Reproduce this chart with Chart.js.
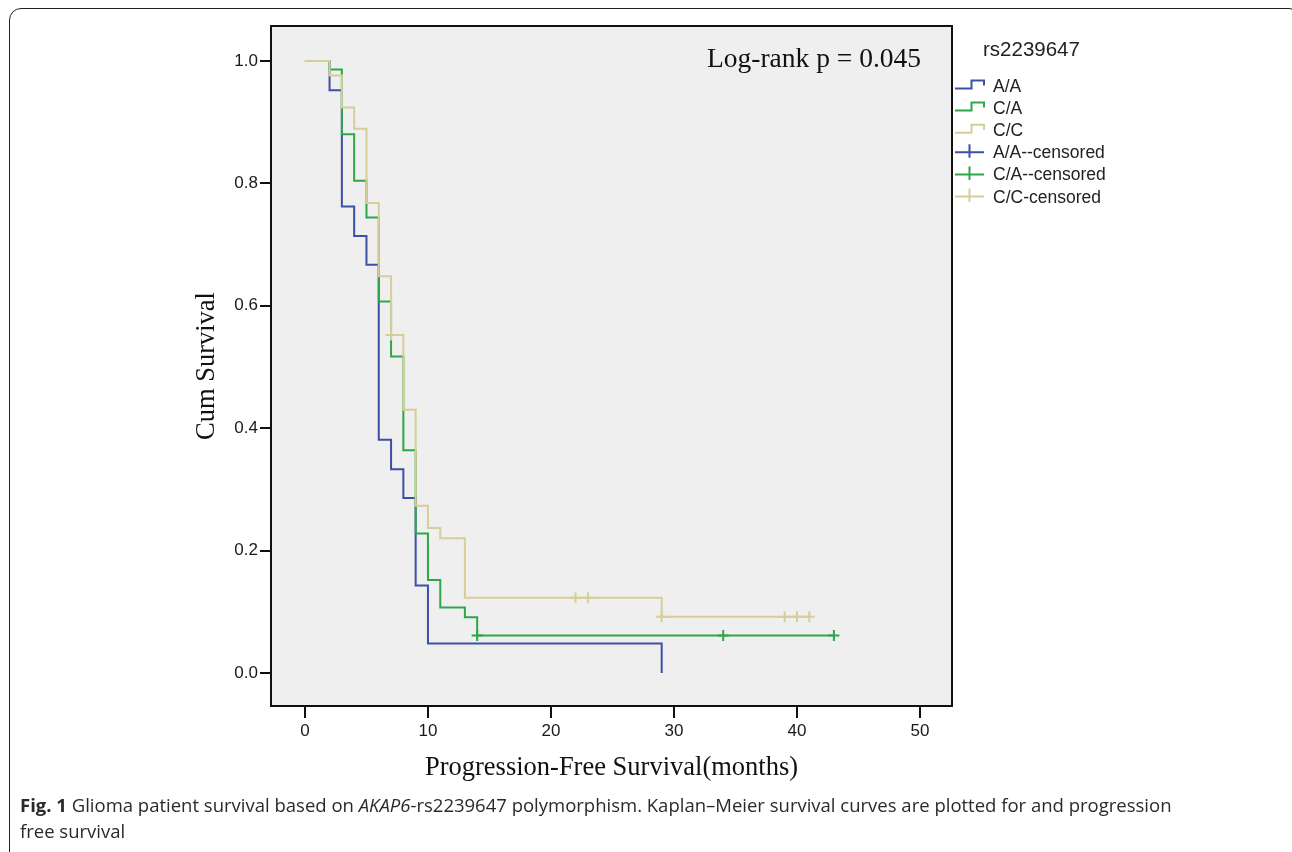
<!DOCTYPE html>
<html>
<head>
<meta charset="utf-8">
<script src="https://cdn.jsdelivr.net/npm/chart.js@4"></script>
<style>
  body { margin: 0; background: #fff; }
  #wrap { position: relative; width: 1292px; height: 852px; overflow: hidden; }
  #frame { position: absolute; left: 9px; top: 8px; width: 1290px; height: 900px;
           border: 1.5px solid #222; border-radius: 12px; }
  #chart { position: absolute; left: 0; top: 0; }
  #caption { position: absolute; left: 20px; top: 792px; width: 1240px;
             font-family: "Open Sans", sans-serif; font-size: 18.5px; line-height: 26px; color: #2a2a2a; }
</style>
</head>
<body>
<div id="wrap">
  <div id="frame"></div>
  <canvas id="chart" width="1292" height="852"></canvas>
  <div id="caption"><b>Fig. 1</b> Glioma patient survival based on <i>AKAP6</i>-rs2239647 polymorphism. Kaplan–Meier survival curves are plotted for and progression<br>free survival</div>
</div>
<script>
// Kaplan-Meier steps (months, cumulative survival)
const aaTime = [0, 2, 3, 4, 5, 6, 7, 8, 9, 10, 29];
const aaSurv = [1, 0.952, 0.762, 0.714, 0.667, 0.381, 0.333, 0.286, 0.143, 0.048, 0];

const caTime = [0, 2, 3, 4, 5, 6, 7, 8, 9, 10, 11, 13, 14, 43];
const caSurv = [1, 0.986, 0.880, 0.804, 0.744, 0.607, 0.517, 0.364, 0.228, 0.152, 0.107, 0.091, 0.061, 0.061];
const caCensTime = [14, 34, 43];
const caCensSurv = [0.061, 0.061, 0.061];

const ccTime = [0, 2, 3, 4, 5, 6, 7, 8, 9, 10, 11, 13, 29, 41];
const ccSurv = [1, 0.976, 0.924, 0.889, 0.768, 0.648, 0.552, 0.430, 0.273, 0.237, 0.220, 0.123, 0.092, 0.092];
const ccCensTime = [7, 22, 23, 29, 39, 40, 41];
const ccCensSurv = [0.552, 0.123, 0.123, 0.092, 0.092, 0.092, 0.092];

const xTicks = [0, 10, 20, 30, 40, 50];
const yTicks = [0, 0.2, 0.4, 0.6, 0.8, 1.0];

const legendTitle = "rs2239647";
const legendLabels = ["A/A", "C/A", "C/C", "A/A--censored", "C/A--censored", "C/C-censored"];
const pValueText = "Log-rank p = 0.045";

const BLUE = "#3c50a6";
const GREEN = "#2fa64a";
const TAN = "#d5ce98";
const legendColors = [BLUE, GREEN, TAN, BLUE, GREEN, TAN];

const pts = (xs, ys) => xs.map((x, i) => ({ x: x, y: ys[i] }));

function stepSet(label, xs, ys, color, order) {
  return {
    label, data: pts(xs, ys), showLine: true, stepped: true,
    borderColor: color, borderWidth: 2, pointRadius: 0, order
  };
}

function censSet(label, xs, ys, color, order) {
  return {
    label, data: pts(xs, ys), showLine: false,
    pointStyle: "cross", pointRadius: 5.5, borderColor: color, borderWidth: 2, order
  };
}

/** plot background, box, p-value and the step legend */
const decor = {
  id: "decor",
  beforeDraw(chart) {
    const { ctx, chartArea: a } = chart;
    ctx.save();
    ctx.fillStyle = "#efefef";
    ctx.fillRect(a.left, a.top, a.width, a.height);
    ctx.restore();
  },
  afterDraw(chart) {
    const { ctx, chartArea: a } = chart;
    ctx.save();
    ctx.strokeStyle = "#111";
    ctx.lineWidth = 2;
    ctx.strokeRect(a.left, a.top, a.width, a.height);

    ctx.fillStyle = "#111";
    ctx.font = "27.5px 'Liberation Serif'";
    ctx.textBaseline = "alphabetic";
    ctx.fillText(pValueText, 707, 67);

    ctx.font = "20.5px 'Liberation Sans'";
    ctx.fillStyle = "#222";
    ctx.fillText(legendTitle, 983, 56);

    ctx.font = "17.5px 'Liberation Sans'";
    legendLabels.forEach((lab, i) => {
      const base = 92 + i * 22.1;
      ctx.strokeStyle = legendColors[i];
      ctx.lineWidth = 2;
      ctx.beginPath();
      if (i < 3) {
        ctx.moveTo(955, base - 3.5);
        ctx.lineTo(971.5, base - 3.5);
        ctx.lineTo(971.5, base - 11.5);
        ctx.lineTo(984, base - 11.5);
        ctx.lineTo(984, base - 6.5);
      } else {
        ctx.moveTo(955, base - 6);
        ctx.lineTo(984, base - 6);
        ctx.moveTo(969.5, base - 14);
        ctx.lineTo(969.5, base - 0.5);
      }
      ctx.stroke();
      ctx.fillStyle = "#222";
      ctx.fillText(lab, 993, base);
    });
    ctx.restore();
  }
};

new Chart(document.getElementById("chart"), {
  type: "scatter",
  data: {
    datasets: [
      stepSet("A/A", aaTime, aaSurv, BLUE, 6),
      stepSet("C/A", caTime, caSurv, GREEN, 5),
      stepSet("C/C", ccTime, ccSurv, TAN, 4),
      censSet("C/A--censored", caCensTime, caCensSurv, GREEN, 3),
      censSet("C/C-censored", ccCensTime, ccCensSurv, TAN, 2)
    ]
  },
  options: {
    responsive: false,
    animation: false,
    layout: { padding: { left: 191, top: 26, right: 340, bottom: 66 } },
    plugins: { legend: { display: false }, tooltip: { enabled: false } },
    scales: {
      x: {
        type: "linear", min: -2.76, max: 52.6,
        afterBuildTicks: s => { s.ticks = xTicks.map(v => ({ value: v })); },
        afterFit: s => { s.height = 80; },
        border: { display: false },
        grid: { drawOnChartArea: false, drawTicks: true, tickLength: 12, color: "#111", lineWidth: 2 },
        ticks: { padding: 3, color: "#1a1a1a", font: { family: "Liberation Sans", size: 17 } },
        title: { display: true, text: "Progression-Free Survival(months)", color: "#111",
                 padding: { top: 0, bottom: 2 }, font: { family: "Liberation Serif", size: 26.5 } }
      },
      y: {
        type: "linear", min: -0.054, max: 1.057,
        afterBuildTicks: s => { s.ticks = yTicks.map(v => ({ value: v })); },
        afterFit: s => { s.width = 80; },
        border: { display: false },
        grid: { drawOnChartArea: false, drawTicks: true, tickLength: 11, color: "#111", lineWidth: 2 },
        ticks: { padding: 2, color: "#1a1a1a", font: { family: "Liberation Sans", size: 17 },
                 callback: v => v.toFixed(1) },
        title: { display: true, text: "Cum Survival", color: "#111",
                 padding: { top: 0, bottom: 0 }, font: { family: "Liberation Serif", size: 26.5 } }
      }
    }
  },
  plugins: [decor]
});
</script>
</body>
</html>
